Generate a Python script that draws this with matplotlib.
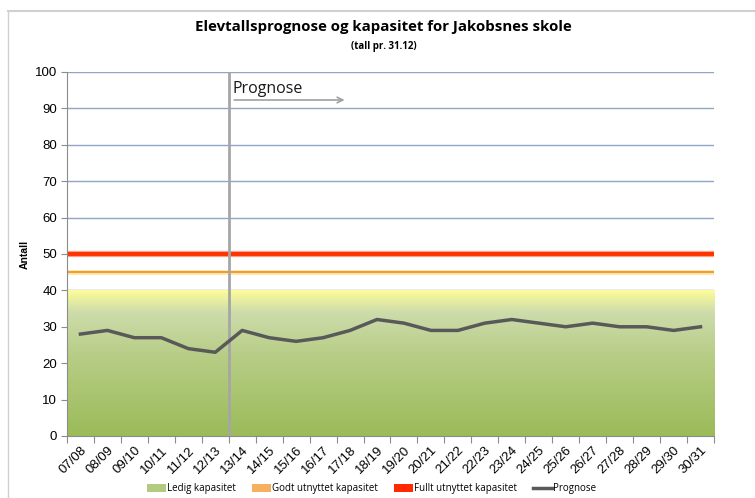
import matplotlib.pyplot as plt
import numpy as np
from matplotlib.colors import LinearSegmentedColormap
from matplotlib.lines import Line2D
from matplotlib.patches import Patch

# school years and forecast
years = ['07/08', '08/09', '09/10', '10/11', '11/12', '12/13', '13/14', '14/15',
         '15/16', '16/17', '17/18', '18/19', '19/20', '20/21', '21/22', '22/23',
         '23/24', '24/25', '25/26', '26/27', '27/28', '28/29', '29/30', '30/31']
prognose = [28, 29, 27, 27, 24, 23, 29, 27, 26, 27, 29, 32, 31, 29, 29, 31,
            32, 31, 30, 31, 30, 30, 29, 30]

# capacity levels
ledig = 40
godt = 45
fullt = 50
start_prognose = 5.5  # between 12/13 and 13/14

plt.rcParams['font.family'] = ['Liberation Sans', 'DejaVu Sans']

fig = plt.figure(figsize=(7.55, 4.98), dpi=100)
ax = fig.add_axes([0.0887, 0.1245, 0.857, 0.731])

x = np.arange(len(years))
ax.set_xlim(-0.5, len(years) - 0.5)
ax.set_ylim(0, 100)

# gridlines
for v in range(10, 101, 10):
    ax.axhline(v, color='#8fa6c6', lw=1, zorder=0)

# gradient area for free capacity
cmap = LinearSegmentedColormap.from_list('ledig', [
    (0.0, '#9bbb59'), (0.55, '#b7cd86'), (0.85, '#cddcab'), (1.0, '#fdfc98')])
grad = np.linspace(0, 1, 200).reshape(-1, 1)
ax.imshow(grad, cmap=cmap, origin='lower', aspect='auto',
          extent=(-0.5, len(years) - 0.5, 0, ledig), zorder=1)

# capacity lines
ax.axhline(godt, color='#fde9a0', lw=3.5, zorder=2)
ax.axhline(godt, color='#f08a30', lw=1.2, zorder=3)
ax.axhline(fullt, color='#f7a08a', lw=4.5, zorder=2)
ax.axhline(fullt, color='#ff3300', lw=2.8, zorder=3)

# forecast start marker
ax.axvline(start_prognose, color='#a6a6a6', lw=2, zorder=4)
ax.annotate('', xy=(9.9, 92.3), xytext=(5.6, 92.3),
            arrowprops=dict(arrowstyle='->', color='#a0a0a0', lw=1.2), zorder=5)
ax.text(5.65, 94.3, 'Prognose', fontsize=11.5, family=['Open Sans', 'DejaVu Sans'],
        color='#1a1a1a', zorder=5)

ax.plot(x, prognose, color='#595959', lw=2.5, zorder=6)

# axes styling
for s in ['top', 'right']:
    ax.spines[s].set_visible(False)
for s in ['left', 'bottom']:
    ax.spines[s].set_color('#8c8c8c')
    ax.spines[s].set_zorder(7)
ax.set_yticks(range(0, 101, 10))
ax.tick_params(axis='y', length=4, color='#8c8c8c', labelsize=9.5, pad=3)
ax.set_xticks(np.arange(-0.5, len(years) + 0.5, 1), minor=False)
ax.set_xticklabels([])
ax.set_xticks(x, minor=True)
ax.set_xticklabels(years, minor=True, rotation=45, ha='right', rotation_mode='anchor', fontsize=9.5)
ax.tick_params(axis='x', which='major', length=5, color='#8c8c8c', direction='out')
ax.tick_params(axis='x', which='minor', length=0, pad=6)
ax.set_ylabel('Antall', fontsize=7.5, fontweight='bold', labelpad=4)

fig.text(0.508, 0.937, 'Elevtallsprognose og kapasitet for Jakobsnes skole',
         ha='center', fontsize=10.8, fontweight='bold', family=['Open Sans', 'DejaVu Sans'])
fig.text(0.508, 0.902, '(tall pr. 31.12)', ha='center', fontsize=7, fontweight='bold',
         family=['Open Sans', 'DejaVu Sans'])

# chart border
fig.add_artist(Line2D([0.0106, 0.0106], [0.0, 0.978], color='#d0d0d0', lw=1))
fig.add_artist(Line2D([0.0106, 1.0], [0.978, 0.978], color='#d0d0d0', lw=1.5))

handles = [Patch(facecolor='#b3cb80', edgecolor='none'),
           Patch(facecolor='#f7b060', edgecolor='none'),
           Patch(facecolor='#ff2a00', edgecolor='none'),
           Line2D([], [], color='#595959', lw=2.5)]
labels = ['Ledig kapasitet', 'Godt utnyttet kapasitet', 'Fullt utnyttet kapasitet', 'Prognose']
fig.legend(handles, labels, loc='lower center', bbox_to_anchor=(0.492, -0.01), ncol=4,
           frameon=False, handlelength=2.0, handleheight=0.9,
           handletextpad=0.1, columnspacing=1.6,
           prop={'family': ['Open Sans', 'DejaVu Sans'], 'size': 7})

fig.savefig('out.png', dpi=100)
